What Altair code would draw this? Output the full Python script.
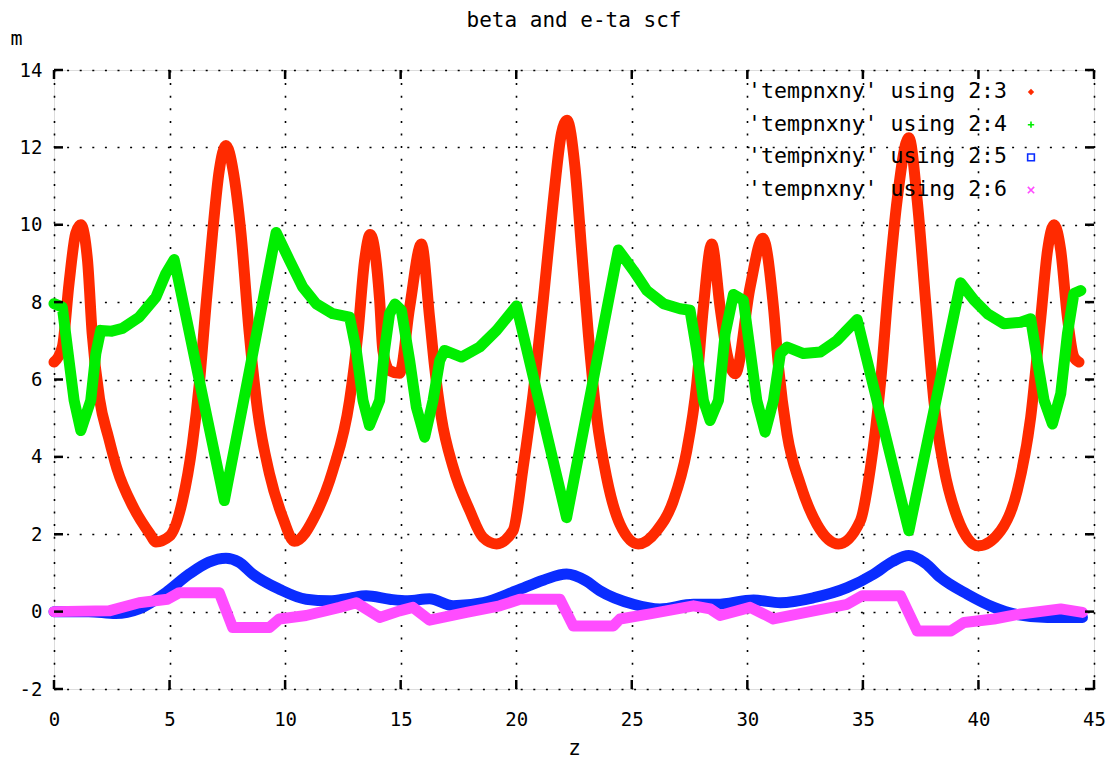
import altair as alt
import pandas as pd

# ---- data ----
red_z = [0.0, 0.36, 0.65, 0.94, 1.16, 1.45, 1.65, 1.97, 2.36, 2.72, 3.44, 4.16, 4.41, 5.0, 5.56, 5.99, 6.29, 6.57,
         6.86, 7.15, 7.44, 7.75, 8.09, 8.45, 8.81, 9.32, 9.9, 10.4, 11.34, 12.06, 12.79, 13.15, 13.44, 13.68, 14.09,
         14.23, 14.52, 14.95, 15.39, 15.9, 16.25, 16.47, 16.76, 17.27, 17.99, 18.56, 19.15, 19.86, 20.3, 20.73,
         21.17, 21.6, 21.96, 22.2, 22.54, 22.83, 23.12, 23.48, 23.91, 24.49, 25.28, 26.08, 26.8, 27.38, 27.81, 28.1,
         28.46, 28.82, 29.12, 29.48, 30.12, 30.67, 31.13, 31.35, 31.72, 32.29, 33.01, 33.95, 34.89, 35.33, 35.76,
         36.12, 36.48, 36.99, 37.35, 37.71, 38.07, 38.5, 39.08, 40.0, 40.96, 41.68, 42.26, 42.7, 42.99, 43.27, 43.56,
         43.85, 44.13, 44.35]
red_v = [6.45, 6.84, 8.48, 9.78, 10.0, 9.08, 7.2, 5.5, 4.5, 3.7, 2.69, 2.0, 1.8, 1.95, 2.87, 4.34, 5.9, 7.87,
         9.78, 11.4, 12.05, 11.4, 9.78, 7.19, 5.2, 3.57, 2.43, 1.82, 2.53, 3.64, 5.46, 7.19, 9.08, 9.75, 8.05,
         6.75, 6.23, 6.16, 7.87, 9.5, 7.61, 6.32, 5.02, 3.73, 2.61, 1.92, 1.75, 2.09, 3.73, 5.63,
         8.05, 10.6, 12.37, 12.7, 11.5, 9.34, 7.18, 5.02, 3.47, 2.26, 1.75, 2.09, 2.87, 4.16, 5.89, 7.87,
         9.5, 7.87, 6.67, 6.15, 8.39, 9.65, 7.87, 6.32, 4.59, 3.3, 2.26, 1.75, 2.35, 3.73, 5.89,
         8.48, 10.63, 12.25, 10.63, 8.05, 5.46, 3.73, 2.44, 1.7, 2.09, 3.13, 5.02, 7.61, 9.34, 10.0, 9.34,
         7.61, 6.58, 6.45]

green_z = [0.0, 0.36, 0.65, 0.87, 1.16, 1.59, 1.81, 2.02, 2.5, 2.96, 3.68, 4.41, 4.84, 5.2, 5.35, 6.3, 7.2, 7.37,
           7.55, 8.5, 9.45, 9.61, 10.19, 10.76, 11.34, 12.06, 12.79, 13.08, 13.37, 13.65, 14.09, 14.3, 14.52, 14.75,
           15.03, 15.39, 15.68, 16.04, 16.4, 16.69, 16.9, 17.63, 18.42, 19.15, 20.01, 20.15, 21.1, 22.0, 22.18,
           22.35, 23.4, 24.27, 24.42, 25.07, 25.65, 26.37, 27.09, 27.52, 27.81, 28.1, 28.39, 28.75, 29.04, 29.4,
           29.83, 30.12, 30.41, 30.77, 31.13, 31.43, 31.72, 32.43, 33.16, 33.88, 34.75, 34.9, 35.9, 36.82, 36.99,
           37.15, 38.1, 39.08, 39.23, 39.81, 40.39, 41.1, 41.83, 42.26, 42.55, 42.84, 43.2, 43.56, 43.85, 44.13,
           44.43]
green_v = [7.96, 7.87, 6.49, 5.46, 4.68, 5.46, 6.67, 7.27, 7.25, 7.32, 7.61, 8.13, 8.74, 9.1, 8.67, 5.94, 3.36, 2.87,
           3.43, 6.36, 9.31, 9.8, 9.08, 8.39, 7.96, 7.7, 7.61, 6.75, 5.46, 4.81, 5.46, 6.75, 7.7, 7.95,
           7.79, 6.49, 5.28, 4.51, 5.46, 6.49, 6.75, 6.58, 6.84, 7.27, 7.9, 7.55, 5.15, 2.88, 2.43,
           2.96, 6.2, 8.9, 9.35, 8.82, 8.3, 7.96, 7.83, 7.79, 6.75, 5.46, 4.94, 5.46, 7.18, 8.2,
           8.05, 6.75, 5.46, 4.64, 5.46, 6.67, 6.84, 6.67, 6.71, 7.01, 7.55, 7.18, 4.74, 2.5, 2.09,
           2.55, 5.27, 8.07, 8.5, 8.05, 7.7, 7.44, 7.48, 7.57, 6.49, 5.46, 4.85, 5.63, 7.18, 8.22,
           8.3]

blue_z = [0.0, 1.5, 2.67, 3.68, 4.84, 5.85, 6.7, 7.44, 8.0, 8.6, 9.75, 10.91, 11.92, 12.8, 13.51, 14.52, 15.3, 16.25,
          17.27, 18.57, 20.01, 21.2, 22.18, 23.0, 23.62, 25.07, 26.22, 27.67, 28.68, 30.27, 31.43, 32.87, 34.32,
          35.47, 36.3, 36.99, 37.7, 38.36, 39.52, 40.67, 41.54, 42.98, 44.5]
blue_v = [0.0, 0.0, -0.05, 0.07, 0.49, 0.97, 1.28, 1.38, 1.28, 0.97, 0.58, 0.32, 0.28, 0.35, 0.41, 0.32, 0.28, 0.33,
          0.15, 0.23, 0.54, 0.82, 0.97, 0.8, 0.54, 0.19, 0.07, 0.19, 0.19, 0.3, 0.23, 0.36, 0.62,
          0.97, 1.3, 1.45, 1.25, 0.88, 0.45, 0.11, -0.06, -0.15, -0.15]

pink_z = [0.0, 2.38, 3.68, 4.91, 5.42, 7.15, 7.73, 9.32, 9.75, 10.91, 12.36, 13.08, 14.09, 14.95, 15.53, 16.25,
          17.85, 19.29, 20.16, 21.89, 22.47, 24.2, 24.49, 25.79, 27.67, 28.39, 28.82, 30.12, 30.7, 31.13, 32.87,
          34.32, 34.97, 36.63, 37.35, 38.81, 39.38, 40.67, 41.83, 43.56, 44.5]
pink_v = [0.0, 0.02, 0.23, 0.32, 0.49, 0.49, -0.41, -0.41, -0.19, -0.1, 0.11, 0.23, -0.15, 0.02, 0.11, -0.22,
          -0.02, 0.15, 0.32, 0.32, -0.37, -0.37, -0.19, -0.06, 0.15, 0.07, -0.1, 0.11, -0.06, -0.19, 0.02,
          0.19, 0.41, 0.41, -0.5, -0.5, -0.28, -0.19, -0.06, 0.07, -0.02]

series_labels = ["'tempnxny' using 2:3", "'tempnxny' using 2:4",
                 "'tempnxny' using 2:5", "'tempnxny' using 2:6"]
series_colors = ["#ff2a00", "#00ee00", "#0a2cff", "#ff4cff"]
chart_title = ["beta and e-ta scf"]

x_ticks = [0, 5, 10, 15, 20, 25, 30, 35, 40, 45]
y_ticks = [-2, 0, 2, 4, 6, 8, 10, 12, 14]

W, H = 1040, 619
FONT = "DejaVu Sans Mono"

xs = alt.Scale(domain=[0, 45], nice=False, zero=False)
ys = alt.Scale(domain=[-2, 14], nice=False, zero=False)

series = [(red_z, red_v, "monotone"), (green_z, green_v, "linear"),
          (blue_z, blue_v, "monotone"), (pink_z, pink_v, "linear")]

layers = []
for i, (zz, vv, ip) in enumerate(series):
    df = pd.DataFrame({"z": zz, "v": vv})
    line = alt.Chart(df).mark_line(
        color=series_colors[i], strokeWidth=11, interpolate=ip, strokeJoin="round", strokeCap="round"
    ).encode(
        x=alt.X("z:Q", scale=xs,
                axis=alt.Axis(values=x_ticks, title="z", labelFont=FONT, labelFontSize=19,
                              labelColor="black", labelPadding=21, tickSize=0, domain=False,
                              labelExpr="'' + datum.value", labelFlush=False, labelOverlap=False,
                              grid=True, gridColor="black", gridDash=[2, 10.6], gridWidth=1.6,
                              titleFont=FONT, titleFontSize=21, titleFontWeight="normal",
                              titlePadding=8, titleColor="black")),
        y=alt.Y("v:Q", scale=ys,
                axis=alt.Axis(values=y_ticks, title="m", labelFont=FONT, labelFontSize=19,
                              labelColor="black", labelPadding=12, tickSize=0, domain=False,
                              labelExpr="'' + datum.value", labelFlush=False, labelOverlap=False,
                              grid=True, gridColor="black", gridDash=[2, 10.6], gridWidth=1.6,
                              titleFont=FONT, titleFontSize=20, titleFontWeight="normal",
                              titleAngle=0, titleX=-44, titleY=-26, titleAlign="left",
                              titleBaseline="alphabetic", titleColor="black")),
        order="z:Q",
    )
    layers.append(line)

# inner tick marks (gnuplot style, mirrored)
xt = pd.DataFrame({"t": x_ticks})
yt = pd.DataFrame({"t": y_ticks})
tick_style = dict(color="black", strokeWidth=2.5)
layers.append(alt.Chart(xt).mark_rule(**tick_style).encode(
    x=alt.X("t:Q", scale=xs), y=alt.value(H), y2=alt.value(H - 9)))
layers.append(alt.Chart(xt).mark_rule(**tick_style).encode(
    x=alt.X("t:Q", scale=xs), y=alt.value(0), y2=alt.value(9)))
layers.append(alt.Chart(yt).mark_rule(**tick_style).encode(
    y=alt.Y("t:Q", scale=ys), x=alt.value(0), x2=alt.value(9)))
layers.append(alt.Chart(yt).mark_rule(**tick_style).encode(
    y=alt.Y("t:Q", scale=ys), x=alt.value(W), x2=alt.value(W - 9)))

# chart title as a text mark above the plot
layers.append(alt.Chart(pd.DataFrame({"t": chart_title})).mark_text(
    align="center", baseline="alphabetic", font=FONT, fontSize=21, color="black"
).encode(x=alt.value(W / 2), y=alt.value(-43), text="t:N"))

# manual legend (text right-aligned, symbol to the right, as in gnuplot)
leg = pd.DataFrame({"label": series_labels, "idx": list(range(len(series_labels)))})
leg_base = alt.Chart(leg).transform_calculate(py="22 + 32.7 * datum.idx")
layers.append(leg_base.mark_text(align="right", baseline="middle", font=FONT, fontSize=21.5,
                                 color="black").encode(
    x=alt.value(953), y=alt.Y("py:Q", scale=None), text="label:N"))

sym_paths = ["M0,-1L1,0L0,1L-1,0Z", "M-1,0L1,0M0,-1L0,1", "M-1,-1L1,-1L1,1L-1,1Z", "M-1,-1L1,1M-1,1L1,-1"]
for i in range(4):
    d = leg.iloc[[i]]
    mk = alt.Chart(d).transform_calculate(py="22 + 32.7 * datum.idx").mark_point(
        shape=sym_paths[i], size=40 if i != 2 else 45, filled=(i == 0),
        color=series_colors[i], strokeWidth=1.6, opacity=1
    ).encode(x=alt.value(977), y=alt.Y("py:Q", scale=None))
    layers.append(mk)

chart = alt.layer(*layers).properties(
    width=W, height=H,
    autosize=alt.AutoSizeParams(type="none"),
    padding={"left": 46, "top": 62, "right": 12, "bottom": 80},
).configure_view(stroke="black", strokeWidth=3).configure(background="white")

chart.save("out.html", embed_options={"renderer": "svg", "actions": False})
